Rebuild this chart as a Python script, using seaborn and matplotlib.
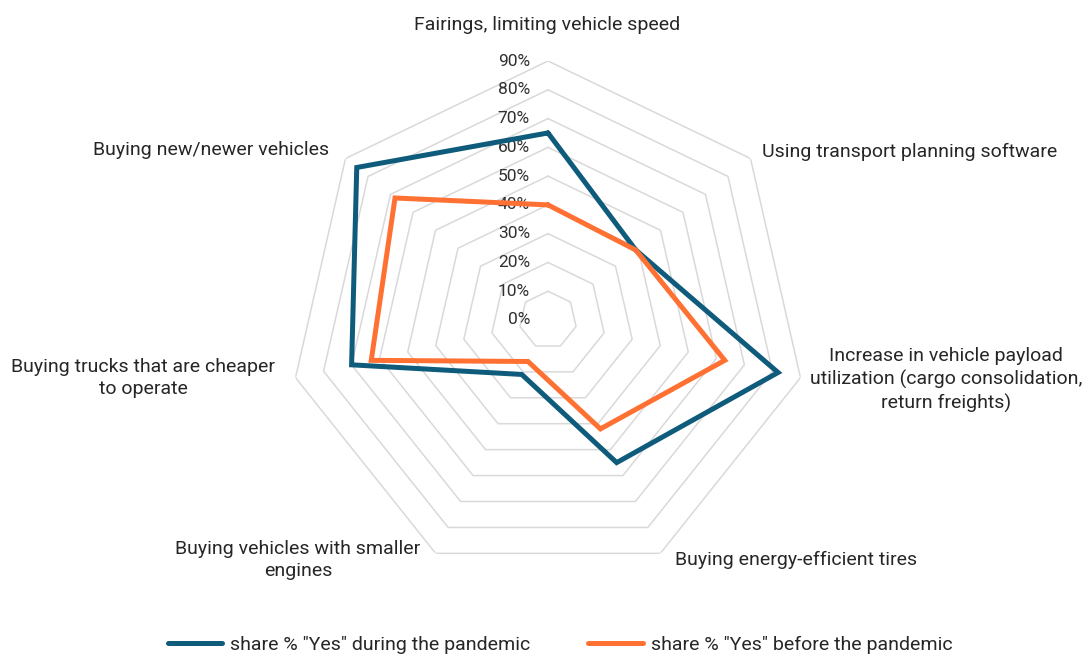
import numpy as np
import pandas as pd
import matplotlib
matplotlib.use('Agg')
import matplotlib.pyplot as plt
import seaborn as sns
from matplotlib.lines import Line2D

# categories clockwise from the top
categories = ['Fairings, limiting vehicle speed',
              'Using transport planning software',
              'Increase in vehicle payload\nutilization (cargo consolidation,\nreturn freights)',
              'Buying energy-efficient tires',
              'Buying vehicles with smaller\nengines',
              'Buying trucks that are cheaper\nto operate',
              'Buying new/newer vehicles']
during = [65, 39, 82, 55, 21, 70, 85]
before = [40, 39, 63, 42, 16, 63, 68]
series_names = ['share % "Yes" during the pandemic', 'share % "Yes" before the pandemic']
grid_levels = [0, 10, 20, 30, 40, 50, 60, 70, 80, 90]

sns.set_theme(style='white')
plt.rcParams['font.family'] = ['Roboto', 'DejaVu Sans']

n = len(categories)
angles = np.arange(n) * 2 * np.pi / n

df = pd.DataFrame({'angle': np.concatenate([angles, angles[:1]]).tolist() * 2,
                   'value': during + during[:1] + before + before[:1],
                   'series': [series_names[0]] * (n + 1) + [series_names[1]] * (n + 1)})

fig = plt.figure(figsize=(10.87, 6.58), dpi=100)
cx, cy, R = 548, 320, 259
ax = fig.add_axes([(cx - R) / 1087, (658 - cy - R) / 658, 2 * R / 1087, 2 * R / 658],
                  projection='polar')
ax.set_theta_offset(np.pi / 2)
ax.set_theta_direction(-1)
ax.set_ylim(0, 90)
ax.grid(False)
ax.spines['polar'].set_visible(False)
ax.set_xticks([])
ax.set_yticks([])
ax.patch.set_alpha(0)

# heptagon grid
closed = np.concatenate([angles, angles[:1]])
for lvl in grid_levels[1:]:
    ax.plot(closed, [lvl] * (n + 1), color='#d9d9d9', lw=1.1, zorder=1)
for lvl in grid_levels:
    ax.annotate(f'{lvl}%', (0, lvl), xytext=(-13, 0), textcoords='offset points',
                ha='right', va='center', fontsize=12.5, color='#303030')

palette = {series_names[0]: '#0e5b7b', series_names[1]: '#ff7133'}
sns.lineplot(data=df, x='angle', y='value', hue='series', palette=palette, sort=False,
             estimator=None, units='series', lw=3.6, ax=ax, legend=False, zorder=3)
for line in ax.lines[-2:]:
    line.set_solid_joinstyle('miter')
ax.set_xlabel('')
ax.set_ylabel('')

# category labels
label_pos = [(547, 25, 'center'), (762, 152, 'left'), (946, 380, 'center'),
             (675, 560, 'left'), (298, 560, 'center'), (143, 378, 'center'),
             (211, 150, 'center')]
for text, (x, y, ha) in zip(categories, label_pos):
    fig.text(x / 1087, 1 - y / 658, text, ha=ha, va='center', fontsize=14,
             color='#262626', linespacing=1.3)

# legend
handles = [Line2D([], [], color=palette[s], lw=3.6, solid_capstyle='round') for s in series_names]
fig.legend(handles, series_names, loc='center', bbox_to_anchor=(560 / 1087, 1 - 645 / 658),
           ncol=2, frameon=False, fontsize=14, handlelength=2.8, handletextpad=0.4,
           columnspacing=3.0)

fig.savefig('out.png', dpi=100)
